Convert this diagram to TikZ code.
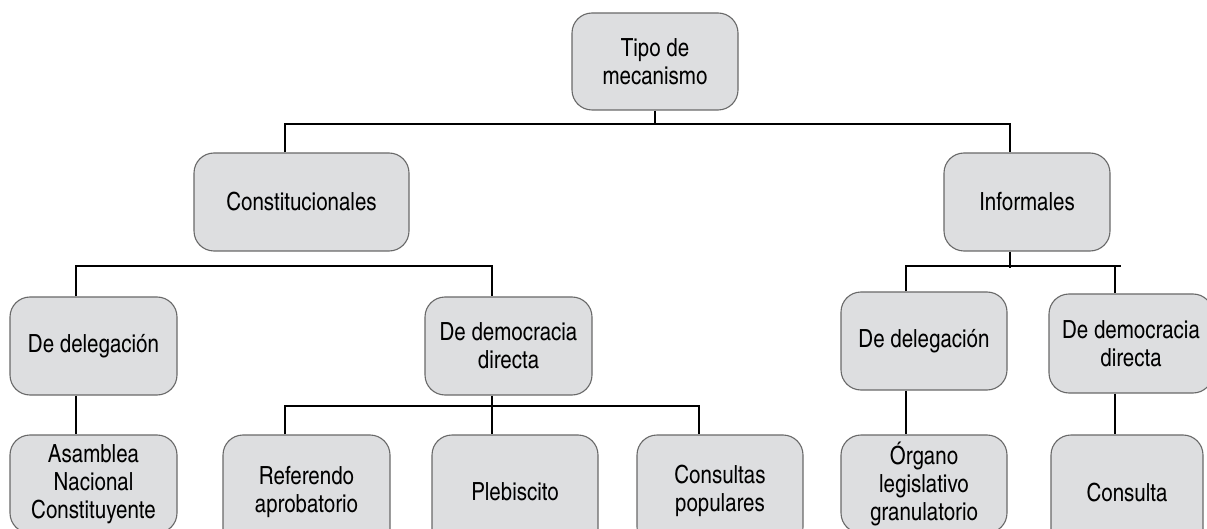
\documentclass[tikz,border=0pt]{standalone}
\usepackage{fontspec}
\setmainfont{texgyreheroscn}[Extension=.otf,UprightFont=*-regular]
\definecolor{boxfill}{RGB}{221,222,224}
\definecolor{boxline}{RGB}{105,105,105}
\tikzset{
  box/.style={draw=boxline, fill=boxfill, line width=1.1pt, rounded corners=20pt,
    align=center, inner sep=0pt, font=\fontsize{25}{28}\selectfont},
  conn/.style={draw=black, line width=1.2pt}
}
\begin{document}
\begin{tikzpicture}[x=1pt,y=-1pt]
\useasboundingbox (0,0) rectangle (1207,529);
\clip (0,0) rectangle (1207,529);
% level 1
\node[box, minimum width=166pt, minimum height=97pt] (tipo) at (655,61.5) {Tipo de\\mecanismo};
% level 2
\node[box, minimum width=215pt, minimum height=98pt] (cons) at (301.5,202) {Constitucionales};
\node[box, minimum width=166pt, minimum height=98pt] (inf) at (1027,202) {Informales};
% level 3
\node[box, minimum width=167pt, minimum height=98pt] (dd1) at (93.5,346) {De delegación};
\node[box, minimum width=167pt, minimum height=98pt] (ddd1) at (508.5,346) {De democracia\\directa};
\node[box, minimum width=166pt, minimum height=98pt] (dd2) at (924,341) {De delegación};
\node[box, minimum width=164pt, minimum height=99pt] (ddd2) at (1131,343.5) {De democracia\\directa};
% level 4
\node[box, minimum width=167pt, minimum height=98pt] (asam) at (93.5,484) {Asamblea\\Nacional\\Constituyente};
\node[box, minimum width=167pt, minimum height=114pt] (ref) at (306.5,492) {Referendo\\aprobatorio};
\node[box, minimum width=166pt, minimum height=114pt] (pleb) at (515,492) {Plebiscito};
\node[box, minimum width=166pt, minimum height=112pt] (cpop) at (720,491) {Consultas\\populares};
\node[box, minimum width=166pt, minimum height=98pt] (org) at (924,484) {Órgano\\legislativo\\granulatorio};
\node[box, minimum width=152pt, minimum height=116pt] (cta) at (1127,493) {Consulta};
% junction coordinates
\coordinate (b1l) at (285,124);
\coordinate (b1r) at (1010,124);
\coordinate (b2l) at (76,266);
\coordinate (b2r) at (492,266);
\coordinate (b3l) at (285,406);
\coordinate (b3m) at (492,406);
\coordinate (b3r) at (699,406);
\coordinate (b4l) at (906,266);
\coordinate (b4m) at (1010,268);
\coordinate (b4v) at (1115,266);
\coordinate (b4r) at (1121,266);
% connectors
\draw[conn] (tipo.south) -- (tipo.south |- b1l);
\draw[conn] (cons.north -| b1l) -- (b1l) -- (b1r) -- (inf.north -| b1r);
\draw[conn] (cons.south -| b1l) -- (cons.south -| b1l |- b2l);
\draw[conn] (dd1.north -| b2l) -- (b2l) -- (b2r) -- (ddd1.north -| b2r);
\draw[conn] (dd1.south -| b2l) -- (asam.north -| b2l);
\draw[conn] (ddd1.south -| b3m) -- (b3m);
\draw[conn] (ref.north -| b3l) -- (b3l) -- (b3r) -- (cpop.north -| b3r);
\draw[conn] (b3m) -- (pleb.north -| b3m);
\draw[conn] (inf.south -| b4m) -- (b4m);
\draw[conn] (dd2.north -| b4l) -- (b4l) -- (b4r);
\draw[conn] (b4v) -- (ddd2.north -| b4v);
\draw[conn] (dd2.south -| b4l) -- (org.north -| b4l);
\draw[conn] (ddd2.south -| b4v) -- (cta.north -| b4v);
\end{tikzpicture}
\end{document}
